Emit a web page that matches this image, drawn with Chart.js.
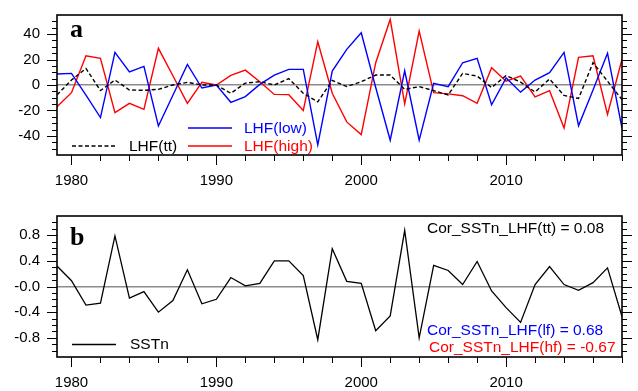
<!DOCTYPE html>
<html>
<head>
<meta charset="utf-8">
<script src="https://cdn.jsdelivr.net/npm/chart.js@4.4.1/dist/chart.umd.min.js"></script>
<style>
  html, body { margin: 0; padding: 0; background: #fff; }
  #wrap { position: relative; width: 638px; height: 391px; overflow: hidden; }
  .panel { position: absolute; left: 0; }
</style>
</head>
<body>
<div id="wrap">
  <div class="panel" style="top:0"><canvas id="ca" width="638" height="195"></canvas></div>
  <div class="panel" style="top:195px"><canvas id="cb" width="638" height="196"></canvas></div>
</div>
<script>
// ---------------- data ----------------
const years = [1979,1980,1981,1982,1983,1984,1985,1986,1987,1988,1989,1990,1991,1992,1993,1994,1995,1996,1997,1998,
               1999,2000,2001,2002,2003,2004,2005,2006,2007,2008,2009,2010,2011,2012,2013,2014,2015,2016,2017,2018];

const lhfLow  = [8.6,9.1,-8,-25.6,25.6,10.2,14.6,-32.2,-8,16.2,-2.4,0,-13.6,-9.1,0.5,7.8,12.3,12.3,-47,11,
                 28,41,-2,-43.4,11.2,-43.4,1.3,-1.3,17.5,20.9,-15.5,5.5,-5.6,3.9,9.7,25.6,-32,-4,25,-34];

const lhfHigh = [-17,-6,23,20.9,-21.7,-14.4,-19.1,28.8,7.3,-14.4,2.1,0,7.5,11.7,2.6,-7.4,-7.6,-20,34,-6.5,
                 -29,-39,17.5,51.5,-14.9,42.3,-6,-7,-8.4,-14.4,13.5,3,7,-9.4,-4.5,-33.8,21.7,23,-23.2,20.2];

const lhfTt   = [-7.8,3.9,13,-4.4,3.9,-3.9,-4.2,-3.4,0,2.1,0,0,-6.5,1.5,2.6,0,5,-6.5,-13.3,3.6,
                 -1.2,2.6,7.8,7.8,-3.4,-1.3,-4.4,-7.8,9.1,7,-2,7.5,2.2,-5.5,4.7,-8.2,-10.6,17.5,3,-11.5];

const sstn    = [0.32,0.09,-0.29,-0.26,0.79,-0.18,-0.08,-0.40,-0.22,0.26,-0.27,-0.20,0.14,0.01,0.05,0.40,0.40,0.17,-0.83,0.59,
                 0.08,0.05,-0.69,-0.46,0.875,-0.80,0.33,0.25,0.03,0.39,-0.07,-0.33,-0.56,0.03,0.31,0.03,-0.06,0.06,0.29,-0.47];

const xTickValues = [1980,1990,2000,2010];
const xTickLabels = ['1980','1990','2000','2010'];
const yTickValuesA = [-40,-20,0,20,40];
const yTickLabelsA = ['-40','-20','0','20','40'];
const yTickValuesB = [-0.8,-0.4,0,0.4,0.8];
const yTickLabelsB = ['-0.8','-0.4','-0.0','0.4','0.8'];

const legendA = ['LHF(tt)','LHF(low)','LHF(high)'];
const legendB = ['SSTn'];
const corLabels = ['Cor_SSTn_LHF(tt) = 0.08','Cor_SSTn_LHF(lf) = 0.68','Cor_SSTn_LHF(hf) = -0.67'];

// ---------------- helpers ----------------
const SANS = "'Liberation Sans', Arial, Helvetica, sans-serif";
Chart.defaults.font.family = SANS;
Chart.defaults.color = '#000';

function pts(arr){ return years.map((y,i)=>({x:y, y:arr[i]})); }

const decoPlugin = {
  id: 'deco',
  afterDraw(chart, args, opts) {
    const ctx = chart.ctx;
    const {left, right, top, bottom} = chart.chartArea;
    const xs = chart.scales.x, ys = chart.scales.y;
    ctx.save();
    ctx.strokeStyle = '#000';
    ctx.lineWidth = 1;
    for (let k = 0; ; k++) {
      const v = opts.yMinorStart + k * opts.yMinorStep;
      if (v > opts.yMinorEnd + 1e-9) break;
      const major = Math.abs(Math.round(v / opts.yMajorStep) * opts.yMajorStep - v) < 1e-6;
      const len = major ? 10 : 5;
      const py = Math.round(ys.getPixelForValue(v)) + 0.5;
      ctx.beginPath();
      ctx.moveTo(left - len, py); ctx.lineTo(left, py);
      ctx.moveTo(right, py); ctx.lineTo(right + len, py);
      ctx.stroke();
    }
    for (let yr = 1980; yr <= 2018; yr += 2) {
      const major = yr % 10 === 0;
      const len = major ? 10 : 6;
      const px = Math.round(xs.getPixelForValue(yr)) + 0.5;
      ctx.beginPath();
      ctx.moveTo(px, bottom); ctx.lineTo(px, bottom + len);
      ctx.stroke();
    }
    ctx.lineWidth = 1.6;
    ctx.strokeRect(left, top, right - left, bottom - top);

    ctx.fillStyle = '#000';
    ctx.font = "bold 26px 'Liberation Serif', 'Times New Roman', serif";
    ctx.textBaseline = 'alphabetic';
    ctx.textAlign = 'left';
    ctx.fillText(opts.letter, 70, top + opts.letterDy);

    ctx.font = '15.5px ' + SANS;
    ctx.textBaseline = 'middle';
    (opts.legend || []).forEach(e => {
      ctx.save();
      ctx.strokeStyle = e.color;
      ctx.lineWidth = e.width || 1.4;
      ctx.setLineDash(e.dash || []);
      ctx.beginPath();
      ctx.moveTo(e.x1, e.y); ctx.lineTo(e.x2, e.y);
      ctx.stroke();
      ctx.restore();
      ctx.fillStyle = e.color;
      ctx.fillText(e.text, e.tx, e.y + 0.5);
    });
    (opts.texts || []).forEach(t => {
      ctx.fillStyle = t.color;
      ctx.fillText(t.text, t.x, t.y);
    });
    ctx.restore();
  }
};

function makeChart(id, datasets, yMin, yMax, yVals, yLabs, xHeight, padTop, deco) {
  return new Chart(document.getElementById(id), {
    type: 'line',
    data: { datasets },
    options: {
      responsive: false,
      animation: false,
      devicePixelRatio: 1,
      layout: { padding: { top: padTop, right: 16, left: 0, bottom: 0 } },
      plugins: { legend: { display: false }, tooltip: { enabled: false }, deco },
      elements: { point: { radius: 0 }, line: { tension: 0 } },
      scales: {
        x: {
          type: 'linear', min: 1979, max: 2018,
          afterBuildTicks: s => { s.ticks = xTickValues.map(v => ({value: v})); },
          afterFit: s => { s.height = xHeight; s.paddingLeft = 0; s.paddingRight = 0; s.paddingTop = 0; s.paddingBottom = 0; },
          ticks: {
            padding: 17, maxRotation: 0, autoSkip: false,
            font: { size: 15 }, color: '#000',
            callback: (v) => { const i = xTickValues.indexOf(v); return i >= 0 ? xTickLabels[i] : ''; }
          },
          grid: { display: false, drawTicks: false },
          border: { display: false }
        },
        y: {
          type: 'linear', min: yMin, max: yMax,
          afterBuildTicks: s => { s.ticks = yVals.map(v => ({value: v})); },
          afterFit: s => { s.width = 57; s.paddingTop = 0; s.paddingBottom = 0; s.paddingLeft = 0; s.paddingRight = 0; },
          ticks: {
            padding: 17, font: { size: 15 }, color: '#000',
            callback: (v) => { const i = yVals.findIndex(t => Math.abs(t - v) < 1e-9); return i >= 0 ? yLabs[i] : ''; }
          },
          grid: {
            drawTicks: false,
            color: c => (c.tick && Math.abs(c.tick.value) < 1e-9) ? '#8c8c8c' : 'rgba(0,0,0,0)',
            lineWidth: 1.5
          },
          border: { display: false }
        }
      }
    },
    plugins: [decoPlugin]
  });
}

// ---------------- panel a ----------------
makeChart('ca', [
  { label: legendA[0], data: pts(lhfTt),   borderColor: '#000', borderWidth: 1.4, borderDash: [4, 2.5] },
  { label: legendA[1], data: pts(lhfLow),  borderColor: '#0000ff', borderWidth: 1.4 },
  { label: legendA[2], data: pts(lhfHigh), borderColor: '#ff0000', borderWidth: 1.4 }
], -55, 55, yTickValuesA, yTickLabelsA, 40, 15, {
  letter: 'a', letterDy: 22,
  yMinorStart: -50, yMinorEnd: 50, yMinorStep: 5, yMajorStep: 20,
  legend: [
    { text: legendA[0], color: '#000', dash: [4, 2.5], x1: 72, x2: 117, y: 146, tx: 129 },
    { text: legendA[1], color: '#0000ff', x1: 188, x2: 232, y: 128, tx: 244 },
    { text: legendA[2], color: '#ff0000', x1: 188, x2: 232, y: 146, tx: 244 }
  ]
});

// ---------------- panel b ----------------
makeChart('cb', [
  { label: legendB[0], data: pts(sstn), borderColor: '#000', borderWidth: 1.3 }
], -1.1, 1.1, yTickValuesB, yTickLabelsB, 34, 21, {
  letter: 'b', letterDy: 29,
  yMinorStart: -1.0, yMinorEnd: 1.0, yMinorStep: 0.1, yMajorStep: 0.4,
  legend: [
    { text: legendB[0], color: '#000', x1: 72, x2: 116, y: 149.5, tx: 130 }
  ],
  texts: [
    { text: corLabels[0], color: '#000', x: 427, y: 33.5 },
    { text: corLabels[1], color: '#0000ff', x: 427, y: 136 },
    { text: corLabels[2], color: '#ff0000', x: 429, y: 152.5 }
  ]
});
</script>
</body>
</html>
